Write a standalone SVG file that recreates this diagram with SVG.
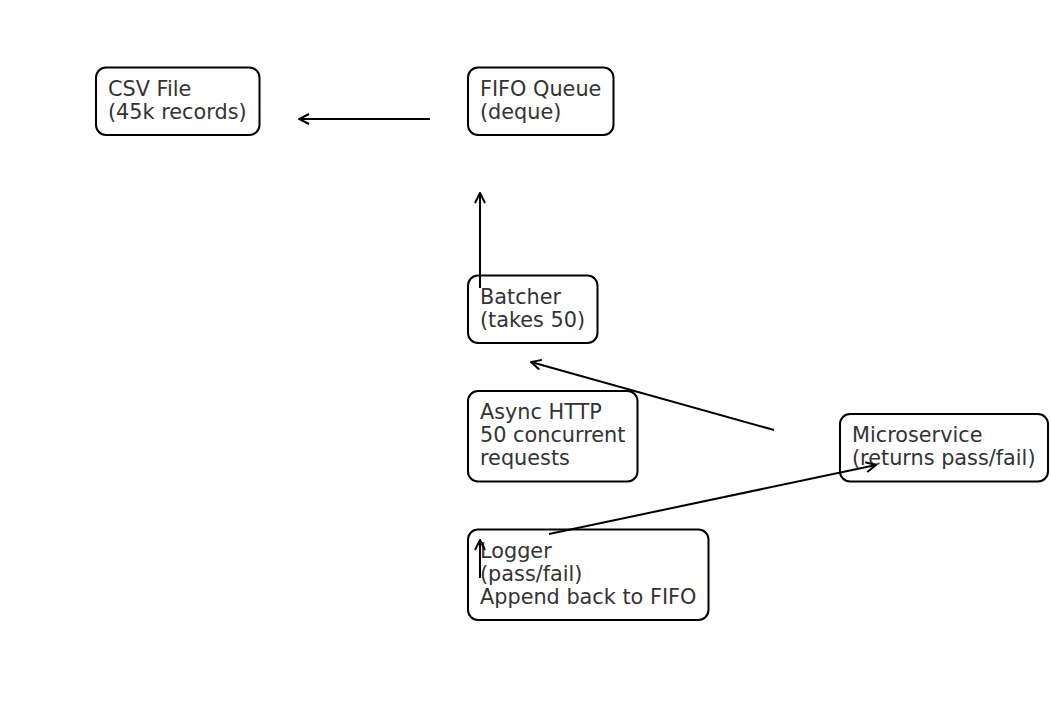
<svg xmlns="http://www.w3.org/2000/svg" width="1051" height="723" viewBox="0 0 1051 723">
<style>
.box{fill:#fff;stroke:#000;stroke-width:2}
.lbl{font-family:"DejaVu Sans",sans-serif;font-size:20.8px;fill:#333}
.edge{stroke:#000;stroke-width:2;fill:none;marker-end:url(#arr)}
</style>
<defs>
<marker id="arr" viewBox="0 0 12 12" refX="11" refY="6" markerWidth="12" markerHeight="12" markerUnits="userSpaceOnUse" orient="auto">
<path d="M1,1 L11,6 L1,11" fill="none" stroke="#000" stroke-width="2"/>
</marker>
</defs>
<rect width="1051" height="723" fill="#fff"/>
<g id="csv"><rect class="box" x="96" y="67.5" width="163.5" height="67.5" rx="10"/><text class="lbl" x="108"><tspan x="108" y="96">CSV File</tspan><tspan x="108" y="119">(45k records)</tspan></text></g>
<g id="fifo"><rect class="box" x="468" y="67.5" width="145.5" height="67.5" rx="10"/><text class="lbl"><tspan x="480" y="96">FIFO Queue</tspan><tspan x="480" y="119">(deque)</tspan></text></g>
<g id="batcher"><rect class="box" x="468" y="275.5" width="129.5" height="67.5" rx="10"/><text class="lbl"><tspan x="480" y="304">Batcher</tspan><tspan x="480" y="327">(takes 50)</tspan></text></g>
<g id="async"><rect class="box" x="468" y="391" width="169.5" height="90.5" rx="10"/><text class="lbl"><tspan x="480" y="419">Async HTTP</tspan><tspan x="480" y="442">50 concurrent</tspan><tspan x="480" y="465">requests</tspan></text></g>
<g id="micro"><rect class="box" x="840" y="414" width="208" height="67.5" rx="10"/><text class="lbl"><tspan x="852" y="442">Microservice</tspan><tspan x="852" y="465">(returns pass/fail)</tspan></text></g>
<g id="logger"><rect class="box" x="468" y="529.5" width="240.5" height="90.5" rx="10"/><text class="lbl"><tspan x="480" y="558">Logger</tspan><tspan x="480" y="581">(pass/fail)</tspan><tspan x="480" y="604">Append back to FIFO</tspan></text></g>
<g id="connectors">
<line class="edge" x1="430" y1="119" x2="299" y2="119"/>
<line class="edge" x1="480" y1="288" x2="480" y2="193"/>
<line class="edge" x1="774" y1="430" x2="531" y2="362"/>
<line class="edge" x1="549" y1="534" x2="876" y2="465"/>
<line class="edge" x1="480" y1="578" x2="480" y2="540"/>
</g>
</svg>
